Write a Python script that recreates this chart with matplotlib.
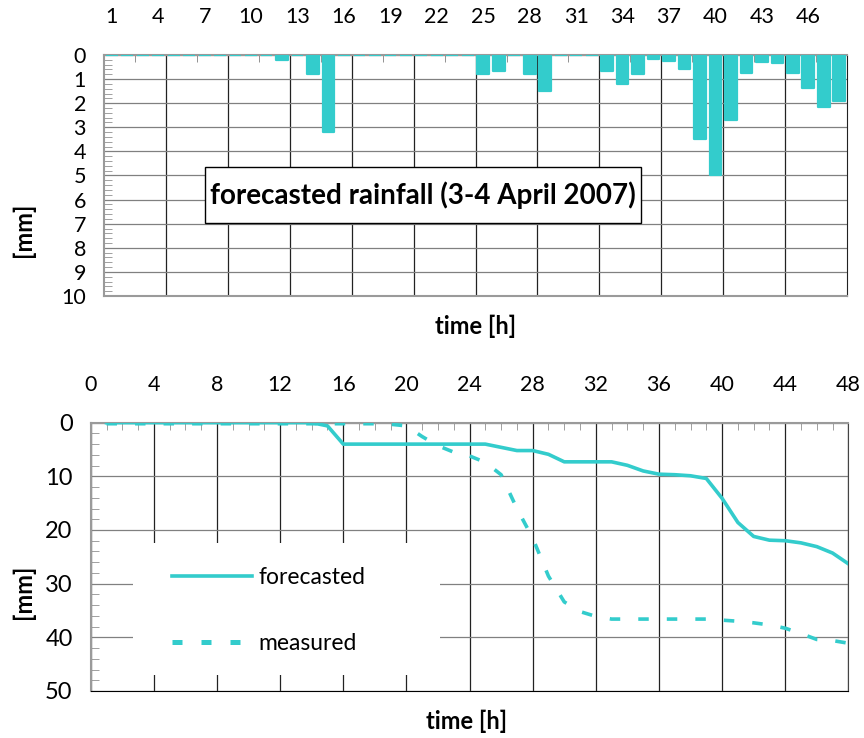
import matplotlib
matplotlib.use("Agg")
import matplotlib.pyplot as plt
from matplotlib.patches import Rectangle
import numpy as np

plt.rcParams['font.family'] = ['Lato', 'DejaVu Sans']

TEAL = '#33CCCC'

# hourly forecasted rainfall [mm], hours 1..48
hours = list(range(1, 49))
rain = [0, 0, 0, 0, 0, 0, 0, 0, 0, 0, 0, 0.2, 0, 0.8, 3.2, 0,
        0, 0, 0, 0, 0, 0, 0, 0, 0.8, 0.65, 0, 0.8, 1.5, 0, 0, 0,
        0.65, 1.2, 0.8, 0.15, 0.25, 0.6, 3.5, 5.0, 2.7, 0.75, 0.3, 0.35, 0.75, 1.35,
        2.15, 1.9]

# cumulative rainfall [mm]
forecasted = [0, 0, 0, 0, 0, 0, 0, 0, 0, 0, 0, 0, 0, 0, 0.6, 4.0,
              4.0, 4.0, 4.0, 4.0, 4.0, 4.0, 4.0, 4.0, 4.0, 4.6, 5.2, 5.2, 5.9, 7.3, 7.3, 7.3,
              7.3, 7.95, 9.0, 9.6, 9.7, 9.9, 10.4, 14.1, 18.6, 21.2, 21.9, 22.0, 22.4, 23.1,
              24.3, 26.3]
measured = [0.2, 0.2, 0.2, 0.2, 0.2, 0.2, 0.2, 0.2, 0.2, 0.2, 0.2, 0.2, 0.2, 0.2, 0.2, 0.2,
            0.2, 0.2, 0.3, 0.6, 2.6, 4.3, 5.5, 6.2, 7.4, 9.7, 16.0, 21.5, 28.6, 33.4, 35.2, 36.1,
            36.6, 36.6, 36.6, 36.6, 36.6, 36.6, 36.6, 36.8, 37.0, 37.3, 37.7, 38.3, 39.3, 40.4,
            40.6, 41.1]

top_labels = list(range(1, 47, 3))
bottom_ticks = list(range(0, 49, 4))

fig = plt.figure(figsize=(8.64, 7.38), dpi=100)

# ---------- top: hourly bars ----------
ax1 = fig.add_axes([0.1204, 0.5989, 0.860, 0.3266])
ax1.bar(hours, rain, width=0.76, color=TEAL, edgecolor=TEAL, linewidth=1.6,
        joinstyle='round', zorder=3)
ax1.set_xlim(0.5, 48.5)
ax1.set_ylim(10, 0)

ax1.xaxis.tick_top()
ax1.set_xticks(top_labels)
ax1.set_xticks(np.arange(2.5, 48, 4), minor=True)
ax1.tick_params(axis='x', which='major', length=0, pad=20, labelsize=15.5)
ax1.tick_params(axis='x', which='minor', direction='in', length=5, color='#808080', top=True)
for b in np.arange(4.5, 48, 4):
    ax1.axvline(b, color='#222222', lw=0.9, zorder=1)

ax1.set_yticks(range(0, 11))
ax1.set_yticks(np.arange(0, 10.01, 0.2), minor=True)
ax1.tick_params(axis='y', which='major', length=0, pad=13, labelsize=15.5)
ax1.tick_params(axis='y', which='minor', direction='in', length=6, color='#909090')
ax1.grid(axis='y', which='major', color='#808080', lw=0.9, zorder=1)

for side in ('left', 'top', 'bottom'):
    ax1.spines[side].set_color('#9a9a9a')
    ax1.spines[side].set_linewidth(1.5)
ax1.spines['right'].set_color('#222222')

ax1.add_patch(Rectangle((0.136, 0.303), 0.587, 0.232, transform=ax1.transAxes,
                        facecolor='white', edgecolor='black', lw=1.0, zorder=4))
ax1.text(0.4295, 0.419, 'forecasted rainfall (3-4 April 2007)', transform=ax1.transAxes,
         ha='center', va='center', fontsize=20, fontweight='bold', zorder=5)

fig.text(23 / 864, 1 - 230 / 738, '[mm]', rotation=90, ha='center', va='center',
         fontsize=17, fontweight='bold')
fig.text(476 / 864, 1 - 326 / 738, 'time [h]', ha='center', va='center',
         fontsize=17, fontweight='bold')

# ---------- bottom: cumulative lines ----------
ax2 = fig.add_axes([0.105, 0.0637, 0.8769, 0.3636])
ax2.plot(hours, forecasted, color=TEAL, lw=2.6, zorder=3, label='forecasted')
ax2.plot(hours, measured, color=TEAL, lw=2.6, dashes=(2.9, 5.0), dash_capstyle='butt',
         zorder=3, label='measured')
ax2.set_xlim(0, 48)
ax2.set_ylim(50, 0)

ax2.xaxis.tick_top()
ax2.set_xticks(bottom_ticks)
ax2.set_xticks(range(0, 49), minor=True)
ax2.tick_params(axis='x', which='major', length=0, pad=20, labelsize=15.5)
ax2.tick_params(axis='x', which='minor', direction='in', length=5, color='#909090', top=True)
ax2.grid(axis='x', which='major', color='#222222', lw=0.9, zorder=1)

ax2.set_yticks(range(0, 51, 10))
ax2.set_yticks(range(0, 51, 2), minor=True)
ax2.tick_params(axis='y', which='major', length=0, pad=13, labelsize=17)
ax2.tick_params(axis='y', which='minor', direction='in', length=6, color='#909090')
ax2.grid(axis='y', which='major', color='#808080', lw=0.9, zorder=1)

ax2.spines['left'].set_color('#9a9a9a')
ax2.spines['left'].set_linewidth(1.5)
ax2.spines['top'].set_color('#9a9a9a')
ax2.spines['top'].set_linewidth(1.5)
ax2.spines['bottom'].set_color('black')
ax2.spines['right'].set_color('#444444')

ax2.add_patch(Rectangle((0.056, 0.06), 0.405, 0.492, transform=ax2.transAxes,
                        facecolor='white', edgecolor='none', zorder=2))
leg = ax2.legend(loc='upper left', bbox_to_anchor=(0.107, 0.462), frameon=False,
                 fontsize=16.5, handlelength=3.5, handletextpad=0.3, labelspacing=1.95,
                 borderpad=0, borderaxespad=0)
dash_handle = leg.get_lines()[1]
dash_handle.set_linewidth(3.6)
dash_handle.set_dashes((2.0, 3.8))

fig.text(23 / 864, 1 - 592 / 738, '[mm]', rotation=90, ha='center', va='center',
         fontsize=17, fontweight='bold')
fig.text(467 / 864, 1 - 721 / 738, 'time [h]', ha='center', va='center',
         fontsize=17, fontweight='bold')

fig.savefig('out.png', dpi=100)
